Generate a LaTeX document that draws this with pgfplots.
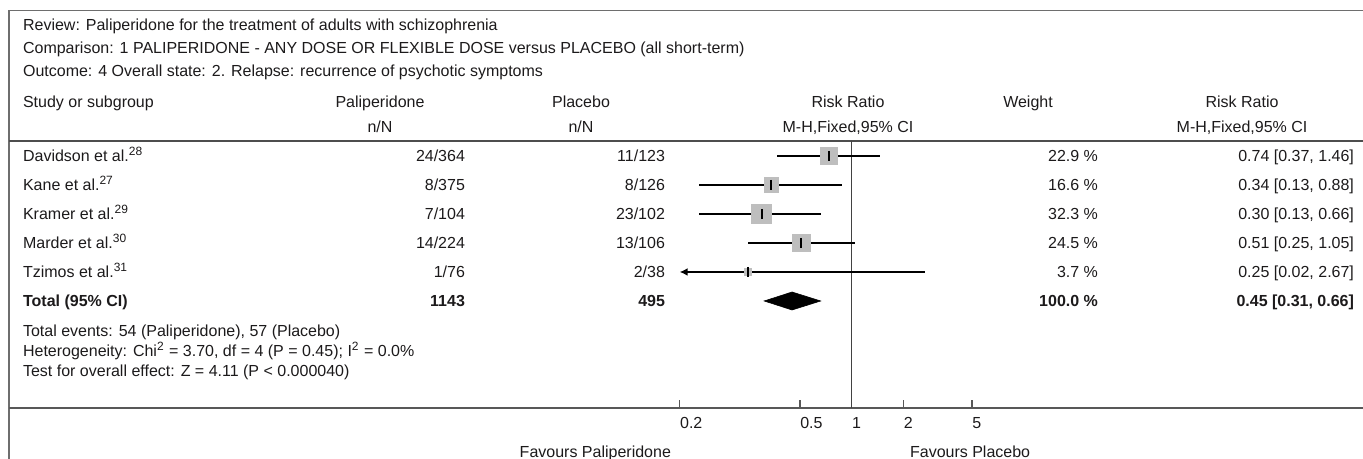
\documentclass[border=0pt]{standalone}
\usepackage{pgfplots}
\pgfplotsset{compat=1.18}
\usepackage{pgfplotstable}
\usepackage{fontspec}
\setmainfont{Liberation Sans}
\usetikzlibrary{arrows.meta}

\definecolor{txt}{RGB}{28,26,27}
\definecolor{rulegray}{RGB}{110,110,110}
\definecolor{boxgray}{RGB}{190,190,190}

% one row per study: row index, risk ratio, 95% CI, weight (%)
\pgfplotstableread{
row  rr    lo    hi    w
-1   0.74  0.37  1.46  22.9
-2   0.34  0.13  0.88  16.6
-3   0.30  0.13  0.66  32.3
-4   0.51  0.25  1.05  24.5
-5   0.25  0.02  2.67  3.7
}\studies

\newcommand{\tabfont}{\fontsize{8}{9.6}\selectfont}

\begin{document}
\begin{tikzpicture}[x=0.5pt, y=-0.5pt, font=\tabfont, text=txt]
\useasboundingbox (0,0) rectangle (1363,459);

% frame and horizontal rules
\draw[rulegray, line width=0.8pt] (9,459) -- (9,10.7) -- (1363,10.7);
\draw[rulegray!70!black, line width=0.7pt] (9,141) -- (1363,141);
\draw[rulegray!80!black, line width=0.9pt] (9,408) -- (1363,408);

% heading lines
\node[anchor=mid west] at (16,25) {Review: Paliperidone for the treatment of adults with schizophrenia};
\node[anchor=mid west] at (16,48) {Comparison: 1 PALIPERIDONE - ANY DOSE OR FLEXIBLE DOSE versus PLACEBO (all short-term)};
\node[anchor=mid west] at (16,71) {Outcome: 4 Overall state: 2. Relapse: recurrence of psychotic symptoms};

% column headers
\node[anchor=mid west] at (16,102) {Study or subgroup};
\node[anchor=mid] at (380,102) {Paliperidone};
\node[anchor=mid] at (581,102) {Placebo};
\node[anchor=mid] at (848,102) {Risk Ratio};
\node[anchor=mid] at (1028,102) {Weight};
\node[anchor=mid] at (1242,102) {Risk Ratio};
\node[anchor=mid] at (380,127) {n/N};
\node[anchor=mid] at (581,127) {n/N};
\node[anchor=mid] at (848,127) {M-H,Fixed,95\% CI};
\node[anchor=mid] at (1242,127) {M-H,Fixed,95\% CI};

% study names
\node[anchor=mid west] at (16,156) {Davidson et al.\textsuperscript{28}};
\node[anchor=mid west] at (16,185) {Kane et al.\textsuperscript{27}};
\node[anchor=mid west] at (16,214) {Kramer et al.\textsuperscript{29}};
\node[anchor=mid west] at (16,243) {Marder et al.\textsuperscript{30}};
\node[anchor=mid west] at (16,272) {Tzimos et al.\textsuperscript{31}};

% events / totals, paliperidone arm
\node[anchor=mid east] at (472,156) {24/364};
\node[anchor=mid east] at (472,185) {8/375};
\node[anchor=mid east] at (472,214) {7/104};
\node[anchor=mid east] at (472,243) {14/224};
\node[anchor=mid east] at (472,272) {1/76};

% events / totals, placebo arm
\node[anchor=mid east] at (672,156) {11/123};
\node[anchor=mid east] at (672,185) {8/126};
\node[anchor=mid east] at (672,214) {23/102};
\node[anchor=mid east] at (672,243) {13/106};
\node[anchor=mid east] at (672,272) {2/38};

% weights
\node[anchor=mid east] at (1105,156) {22.9 \%};
\node[anchor=mid east] at (1105,185) {16.6 \%};
\node[anchor=mid east] at (1105,214) {32.3 \%};
\node[anchor=mid east] at (1105,243) {24.5 \%};
\node[anchor=mid east] at (1105,272) {3.7 \%};

% risk ratios
\node[anchor=mid east] at (1361,156) {0.74 [0.37, 1.46]};
\node[anchor=mid east] at (1361,185) {0.34 [0.13, 0.88]};
\node[anchor=mid east] at (1361,214) {0.30 [0.13, 0.66]};
\node[anchor=mid east] at (1361,243) {0.51 [0.25, 1.05]};
\node[anchor=mid east] at (1361,272) {0.25 [0.02, 2.67]};

% pooled row
\begin{scope}[font=\tabfont\bfseries]
\node[anchor=mid west] at (16,301) {Total (95\% CI)};
\node[anchor=mid east] at (472,301) {1143};
\node[anchor=mid east] at (672,301) {495};
\node[anchor=mid east] at (1105,301) {100.0 \%};
\node[anchor=mid east] at (1361,301) {0.45 [0.31, 0.66]};
\end{scope}

% summary statistics
\node[anchor=mid west] at (16,331) {Total events: 54 (Paliperidone), 57 (Placebo)};
\node[anchor=mid west] at (16,351) {Heterogeneity: Chi\textsuperscript{2} = 3.70, df = 4 (P = 0.45); I\textsuperscript{2} = 0.0\%};
\node[anchor=mid west] at (16,371) {Test for overall effect: Z = 4.11 (P < 0.000040)};

% direction labels
\node[anchor=mid east] at (678,452) {Favours Paliperidone};
\node[anchor=mid west] at (903,452) {Favours Placebo};

\begin{axis}[
  at={(339.85pt,-204pt)}, anchor=south west,
  width=172pt, height=133.5pt, scale only axis,
  xmode=log, xmin=0.1, xmax=10,
  ymin=-9.69, ymax=-0.483,
  axis y line=none, axis x line*=bottom,
  axis line style={draw=none},
  xtick={0.1,0.5,1,2,5}, xticklabels={0.2,0.5,1,2,5},
  minor xtick={},
  tick align=inside, major tick length=4pt,
  x tick style={rulegray!80!black, line width=0.6pt},
  xticklabel style={anchor=base west, inner sep=0pt, yshift=-10.25pt,
    font=\tabfont, text=txt},
  clip=false,
]
% line of no effect
\addplot[rulegray!60!black, line width=0.5pt] coordinates {(1,-0.483) (1,-9.69)};

% confidence intervals
\addplot[black, line width=0.9pt] coordinates {(0.37,-1) (1.46,-1)};
\addplot[black, line width=0.9pt] coordinates {(0.13,-2) (0.88,-2)};
\addplot[black, line width=0.9pt] coordinates {(0.13,-3) (0.66,-3)};
\addplot[black, line width=0.9pt] coordinates {(0.25,-4) (1.05,-4)};
% lower limit 0.02 lies beyond the scale: arrow at the left edge
\addplot[black, line width=0.9pt, {Latex[length=4pt,width=4pt]}-] coordinates {(0.1,-5) (2.67,-5)};

% weight boxes
\addplot[
  only marks, mark=square*, scatter,
  scatter/use mapped color={draw=boxgray, fill=boxgray},
  visualization depends on={0.87*sqrt(\thisrow{w}) \as \boxsize},
  scatter/@pre marker code/.append style={/tikz/mark size=\boxsize},
] table[x=rr, y=row] {\studies};

% point estimates
\addplot[only marks, mark=|, mark size=2.5pt, mark options={line width=1pt, black}]
  table[x=rr, y=row] {\studies};

% pooled estimate
\addplot[fill=black, draw=black, line width=0.3pt] coordinates {(0.31,-6) (0.45,-5.69) (0.66,-6) (0.45,-6.31)} -- cycle;
\end{axis}
\end{tikzpicture}
\end{document}
